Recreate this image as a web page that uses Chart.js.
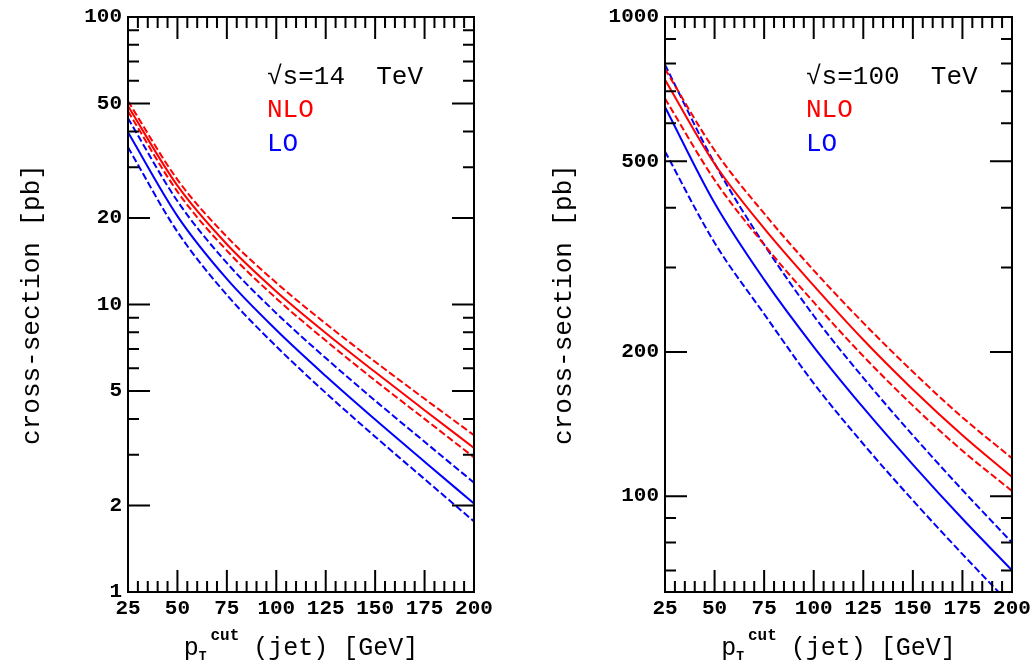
<!DOCTYPE html>
<html>
<head>
<meta charset="utf-8">
<script src="https://cdn.jsdelivr.net/npm/chart.js@4.4.1/dist/chart.umd.min.js"></script>
<style>
  html, body { margin: 0; padding: 0; background: #fff; }
  #wrap { position: relative; width: 1034px; height: 664px; }
  .panel { position: absolute; top: 0; width: 517px; height: 664px; }
</style>
</head>
<body>
<div id="wrap">
  <div class="panel" style="left:0"><canvas id="chart14" width="517" height="664"></canvas></div>
  <div class="panel" style="left:517px"><canvas id="chart100" width="517" height="664"></canvas></div>
</div>
<script>
// jet pT cut [GeV]
const ptCut = [25, 50, 75, 100, 125, 150, 175, 200];

// sqrt(s) = 14 TeV, cross-section [pb]
const nlo14Up   = [51.0, 27.2, 17.2, 11.9, 8.58, 6.32, 4.70, 3.51];
const nlo14     = [49.0, 25.9, 16.2, 11.1, 7.96, 5.82, 4.29, 3.17];
const nlo14Down = [47.0, 24.7, 15.4, 10.5, 7.49, 5.44, 4.00, 2.94];
const lo14Up    = [44.4, 22.9, 13.95, 9.33, 6.51, 4.63, 3.33, 2.40];
const lo14      = [39.7, 20.3, 12.27, 8.15, 5.64, 3.98, 2.84, 2.03];
const lo14Down  = [35.2, 17.9, 10.8, 7.15, 4.93, 3.47, 2.47, 1.76];

// sqrt(s) = 100 TeV, cross-section [pb]
const nlo100Up   = [779, 527, 389, 296, 230, 181.8, 146, 120];
const nlo100     = [740, 494, 362, 275, 212, 167, 134, 109.6];
const nlo100Down = [676, 457, 335, 254, 196, 154.5, 124.4, 102.5];
const lo100Up    = [795, 495, 335, 238, 176.6, 134, 103, 80];
const lo100      = [649, 409, 283, 205, 153, 116.4, 89.7, 70];
const lo100Down  = [524, 338, 240, 172, 128.5, 98, 75.7, 59];

// axis ticks
const xLabels = [25, 50, 75, 100, 125, 150, 175, 200];
const yTicks14 = [1, 2, 3, 4, 5, 6, 7, 8, 9, 10, 20, 30, 40, 50, 60, 70, 80, 90, 100];
const yLabels14 = [1, 2, 5, 10, 20, 50, 100];
const yTicks100 = [70, 80, 90, 100, 200, 300, 400, 500, 600, 700, 800, 900, 1000];
const yLabels100 = [100, 200, 500, 1000];

const RED = '#ff0000';
const BLUE = '#0000ff';
const FONT = '"Liberation Mono", "DejaVu Sans Mono", monospace';

function pairs(ys) {
    return ptCut.map((x, i) => ({ x: x, y: ys[i] }));
}

function line(label, ys, color, dashed) {
    return {
        label: label,
        data: pairs(ys),
        borderColor: color,
        borderWidth: 2,
        borderDash: dashed ? [7, 3] : [],
        pointRadius: 0,
        fill: false,
        cubicInterpolationMode: 'monotone'
    };
}

// frame, inward tick marks, x title and the in-plot text
const decorations = {
    id: 'decorations',
    afterDraw(chart, args, opts) {
        const { ctx, chartArea: a, scales: { x, y } } = chart;
        ctx.save();
        ctx.strokeStyle = '#000';
        ctx.lineWidth = 2;
        ctx.beginPath();
        x.ticks.forEach(t => {
            const px = x.getPixelForValue(t.value);
            const len = xLabels.includes(t.value) ? 22 : 11;
            ctx.moveTo(px, a.bottom); ctx.lineTo(px, a.bottom - len);
            ctx.moveTo(px, a.top); ctx.lineTo(px, a.top + len);
        });
        y.ticks.forEach(t => {
            const py = y.getPixelForValue(t.value);
            const len = opts.yLabels.includes(t.value) ? 22 : 11;
            ctx.moveTo(a.left, py); ctx.lineTo(a.left + len, py);
            ctx.moveTo(a.right, py); ctx.lineTo(a.right - len, py);
        });
        ctx.stroke();
        ctx.strokeRect(a.left, a.top, a.right - a.left, a.bottom - a.top);

        // in-plot text
        ctx.textBaseline = 'alphabetic';
        ctx.textAlign = 'left';
        ctx.font = '26px ' + FONT;
        ctx.fillStyle = '#000';
        ctx.fillText(opts.energy, opts.textX, 84);
        ctx.fillStyle = RED;
        ctx.fillText('NLO', opts.textX, 117);
        ctx.fillStyle = BLUE;
        ctx.fillText('LO', opts.textX, 151);

        // x axis title: p_T^cut (jet) [GeV]
        const cx = (a.left + a.right) / 2;
        const base = 655;
        const mainFont = '25px ' + FONT;
        const subFont = 'bold 13px ' + FONT;
        const supFont = 'bold 16px ' + FONT;
        const rest = '(jet) [GeV]';
        ctx.font = mainFont;
        const wp = ctx.measureText('p').width;
        const wrest = ctx.measureText(rest).width;
        ctx.font = subFont;
        const wT = ctx.measureText('T').width;
        ctx.font = supFont;
        const wcut = ctx.measureText('cut').width;
        const total = wp + wT + 4 + wcut + 14 + wrest;
        let xx = cx - total / 2;
        ctx.fillStyle = '#000';
        ctx.font = mainFont;
        ctx.fillText('p', xx, base);
        xx += wp;
        ctx.font = subFont;
        ctx.fillText('T', xx, base + 5);
        xx += wT + 4;
        ctx.font = supFont;
        ctx.fillText('cut', xx, base - 15);
        xx += wcut + 14;
        ctx.font = mainFont;
        ctx.fillText(rest, xx, base);
        ctx.restore();
    }
};

function makeChart(id, sets, yMin, yMax, yTicks, yLabels, padRight, yWidth, titlePad, energy, textX) {
    const ctx = document.getElementById(id).getContext('2d');
    return new Chart(ctx, {
        type: 'line',
        data: {
            datasets: [
                line('NLO up', sets[0], RED, true),
                line('NLO', sets[1], RED, false),
                line('NLO down', sets[2], RED, true),
                line('LO up', sets[3], BLUE, true),
                line('LO', sets[4], BLUE, false),
                line('LO down', sets[5], BLUE, true)
            ]
        },
        options: {
            responsive: false,
            animation: false,
            devicePixelRatio: 1,
            layout: { padding: { top: 17, right: padRight, left: 0, bottom: 0 } },
            plugins: {
                legend: { display: false },
                tooltip: { enabled: false },
                decorations: { yLabels: yLabels, energy: energy, textX: textX }
            },
            scales: {
                x: {
                    type: 'linear',
                    min: 25,
                    max: 200,
                    grid: { display: false, drawTicks: false },
                    border: { display: false },
                    afterBuildTicks: scale => {
                        const t = [];
                        for (let v = 25; v <= 200; v += 5) t.push({ value: v });
                        scale.ticks = t;
                    },
                    afterFit: scale => {
                        scale.height = 72;
                        scale.paddingLeft = 0; scale.paddingRight = 0;
                    },
                    ticks: {
                        autoSkip: false,
                        maxRotation: 0,
                        padding: 4,
                        color: '#000',
                        font: { family: FONT, size: 21, weight: 'bold' },
                        callback: v => xLabels.includes(v) ? String(v) : ''
                    }
                },
                y: {
                    type: 'logarithmic',
                    min: yMin,
                    max: yMax,
                    grid: { display: false, drawTicks: false },
                    border: { display: false },
                    afterBuildTicks: scale => {
                        scale.ticks = yTicks.map(v => ({ value: v }));
                    },
                    afterFit: scale => {
                        scale.width = yWidth;
                        scale.paddingTop = 0; scale.paddingBottom = 0;
                    },
                    title: {
                        display: true,
                        text: 'cross-section [pb]',
                        color: '#000',
                        font: { family: FONT, size: 26 },
                        padding: { top: titlePad, bottom: 0 }
                    },
                    ticks: {
                        autoSkip: false,
                        padding: 6,
                        color: '#000',
                        font: { family: FONT, size: 21, weight: 'bold' },
                        callback: v => yLabels.includes(v) ? String(v) : ''
                    }
                }
            }
        },
        plugins: [decorations]
    });
}

makeChart('chart14',
    [nlo14Up, nlo14, nlo14Down, lo14Up, lo14, lo14Down],
    1, 100, yTicks14, yLabels14, 43, 128, 17, '\u221As=14  TeV', 267);

makeChart('chart100',
    [nlo100Up, nlo100, nlo100Down, lo100Up, lo100, lo100Down],
    63.0957, 1000, yTicks100, yLabels100, 22, 148, 32, '\u221As=100  TeV', 289);
</script>
</body>
</html>
